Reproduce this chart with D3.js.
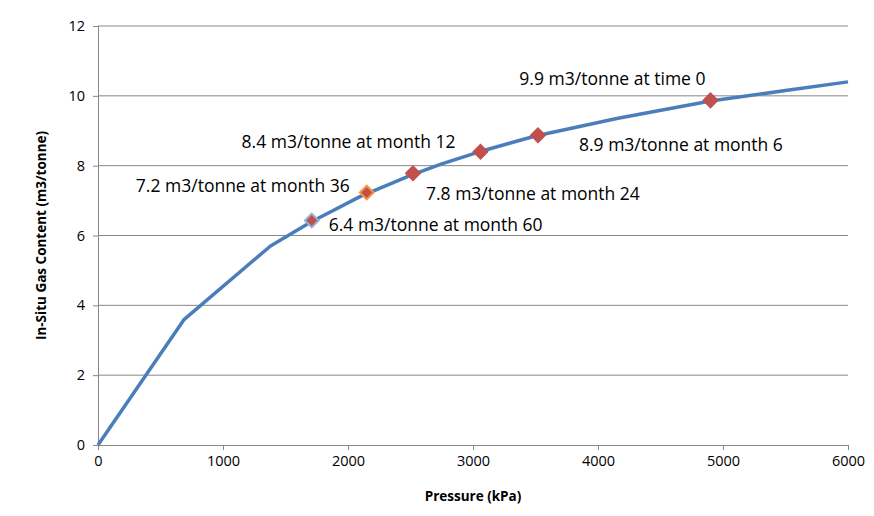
<!DOCTYPE html>
<html><head><meta charset="utf-8">
<script src="https://cdn.jsdelivr.net/npm/d3@7"></script>
<style>body{margin:0;background:#fff}text{font-family:"Open Sans",sans-serif}</style>
</head><body><div id="chart"></div>
<script>
// curve of gas content vs pressure
const curveP = [0, 690, 1380, 1700, 2100, 2500, 2750, 3100, 3500, 4150, 4900, 5500, 6000];
const curveG = [0, 3.6, 5.7, 6.38, 7.12, 7.72, 8.05, 8.45, 8.85, 9.35, 9.85, 10.15, 10.4];
// labelled points
const ptP = [4900, 3520, 3060, 2520, 2150, 1710];
const ptG = [9.87, 8.87, 8.4, 7.78, 7.23, 6.43];
const ptLabel = ["9.9 m3/tonne at time 0", "8.9 m3/tonne at month 6", "8.4 m3/tonne at month 12",
  "7.8 m3/tonne at month 24", "7.2 m3/tonne at month 36", "6.4 m3/tonne at month 60"];
const ptStroke = ["#c0504d", "#c0504d", "#c0504d", "#c0504d", "#f79646", "#95b3d7"];
const labelAnchor = ["end", "start", "end", "start", "end", "start"];
const labelDx = [-5, 41, -25, 13, -17, 17];
const labelDy = [-15, 16, -4, 27, -1, 11];

const width = 874, height = 516;
const margin = {top: 26, right: 26, bottom: 71, left: 98};

const svg = d3.select("#chart").append("svg").attr("width", width).attr("height", height);

const x = d3.scaleLinear().domain([0, 6000]).range([margin.left, width - margin.right]);
const y = d3.scaleLinear().domain([0, 12]).range([height - margin.bottom, margin.top]);

// gridlines
svg.append("g").selectAll("line").data(d3.range(2, 13, 2)).join("line")
  .attr("x1", x(0)).attr("x2", x(6000))
  .attr("y1", d => y(d)).attr("y2", d => y(d))
  .attr("stroke", "#868686");

const xAxis = svg.append("g")
  .attr("transform", `translate(0,${y(0)})`)
  .call(d3.axisBottom(x).tickValues(d3.range(0, 6001, 1000)).tickFormat(d3.format("d")).tickSize(5).tickPadding(6));
const yAxis = svg.append("g")
  .attr("transform", `translate(${x(0)},0)`)
  .call(d3.axisLeft(y).tickValues(d3.range(0, 13, 2)).tickSize(5).tickPadding(8));
[xAxis, yAxis].forEach(g => {
  g.selectAll("path,line").attr("stroke", "#868686");
  g.selectAll("text").attr("font-size", 14.5).attr("fill", "#000");
});

svg.append("text").attr("x", x(3000)).attr("y", 501).attr("text-anchor", "middle")
  .attr("font-size", 13.5).attr("font-weight", "bold").text("Pressure (kPa)");
svg.append("text").attr("transform", `translate(46,${y(6)}) rotate(-90)`)
  .attr("text-anchor", "middle").attr("font-size", 13.5).attr("font-weight", "bold")
  .text("In-Situ Gas Content (m3/tonne)");

const line = d3.line().x(d => x(d[0])).y(d => y(d[1]));
svg.append("path").datum(d3.zip(curveP, curveG))
  .attr("fill", "none").attr("stroke", "#4a7ebb").attr("stroke-width", 3.5)
  .attr("stroke-linejoin", "round").attr("d", line);

const sym = d3.symbol().type(d3.symbolDiamond2).size(120);
svg.append("g").selectAll("path").data(ptP).join("path")
  .attr("transform", (d, i) => `translate(${x(d)},${y(ptG[i])})`)
  .attr("d", sym).attr("fill", "#c0504d")
  .attr("stroke", (d, i) => ptStroke[i]).attr("stroke-width", 2);

svg.append("g").selectAll("text").data(ptLabel).join("text")
  .attr("x", (d, i) => x(ptP[i]) + labelDx[i])
  .attr("y", (d, i) => y(ptG[i]) + labelDy[i])
  .attr("text-anchor", (d, i) => labelAnchor[i])
  .attr("font-size", 17.5).attr("fill", "#000").text(d => d);
</script></body></html>
